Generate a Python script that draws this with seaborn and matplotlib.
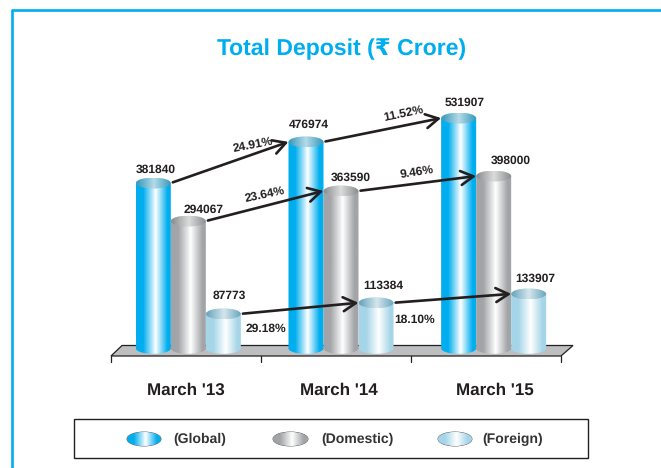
import numpy as np
import pandas as pd
import seaborn as sns
import matplotlib.pyplot as plt
from matplotlib.patches import Polygon, Rectangle, Ellipse
from matplotlib.colors import LinearSegmentedColormap

sns.set_theme(style="white")
plt.rcParams['font.family'] = ['Liberation Sans', 'DejaVu Sans']
plt.rcParams['text.hinting'] = 'none'
plt.rcParams['text.hinting_factor'] = 1

years = ["March '13", "March '14", "March '15"]
types = ["Global", "Domestic", "Foreign"]
global_dep = [381840, 476974, 531907]
domestic_dep = [294067, 363590, 398000]
foreign_dep = [87773, 113384, 133907]
growth_global = ["24.91%", "11.52%"]
growth_domestic = ["23.64%", "9.46%"]
growth_foreign = ["29.18%", "18.10%"]

df = pd.DataFrame({
    "year": years * 3,
    "type": np.repeat(types, 3),
    "value": global_dep + domestic_dep + foreign_dep,
})

side = {"Global": "#00aeef", "Domestic": "#a2a4a7", "Foreign": "#a5d5e8"}
cap_side = {"Global": "#3f9cbf", "Domestic": "#8f9295", "Foreign": "#6fa9c0"}
cap_mid = {"Global": "#b5dbe8", "Domestic": "#dcdcdc", "Foreign": "#d5e6ec"}
ink = "#231f20"

W, H = 661, 468
fig = plt.figure(figsize=(W / 100, H / 100), dpi=100)

# pixel layers under and over the bars
bg = fig.add_axes([0, 0, 1, 1], zorder=0)
top = fig.add_axes([0, 0, 1, 1], zorder=2)
for a in (bg, top):
    a.set_xlim(0, W)
    a.set_ylim(H, 0)
    a.axis("off")
top.patch.set_alpha(0)

# main axes, value scale 0.000433 px per unit
ax = fig.add_axes([112 / W, (H - 370) / H, 458 / W, 281.4 / H], zorder=1)
ax.patch.set_alpha(0)
sns.barplot(data=df, x="year", y="value", hue="type", hue_order=types, order=years,
            palette=side, width=0.688, gap=0, saturation=1, legend=False, ax=ax)
ax.set_xlim(-0.5, 2.5)
ax.set_ylim(-50000, 600000)
ax.axis("off")

cap_h = 11 / 0.000433
# the light cylinders sit a little low in the original drawing
sag = {"Global": 0, "Domestic": 0, "Foreign": 3.5 / 0.000433}


def shade(axes, c_edge, c_mid, box, clip, stops=(0.2, 0.55, 0.88), zorder=3):
    cmap = LinearSegmentedColormap.from_list(
        "c", [(0, c_edge), (stops[0], c_edge), (stops[1], c_mid), (stops[2], c_edge), (1, c_edge)])
    im = axes.imshow(np.linspace(0, 1, 128)[None, :], cmap=cmap, extent=box, aspect="auto",
                     zorder=zorder, interpolation="bilinear")
    im.set_clip_path(clip)
    return im


t = np.linspace(np.pi, 2 * np.pi, 40)
bars = {}
for name, cont in zip(types, ax.containers):
    bars[name] = list(cont)
    for p in cont:
        x0, w, v = p.get_x(), p.get_width(), p.get_height() - sag[name]
        p.set_visible(False)
        xc = x0 + w / 2
        # body with rounded foot
        vx = np.r_[x0, xc + w / 2 * np.cos(t), x0 + w]
        vy = np.r_[v, cap_h / 2 * np.sin(t), v]
        body = Polygon(np.c_[vx, vy], closed=True, transform=ax.transData)
        shade(ax, side[name], "#ffffff", (x0, x0 + w, -cap_h / 2, v), body)
        cap = Ellipse((xc, v), w, cap_h, transform=ax.transData)
        shade(ax, cap_side[name], cap_mid[name], (x0, x0 + w, v - cap_h / 2, v + cap_h / 2), cap,
              stops=(0.05, 0.5, 0.95), zorder=4)
ax.set_xlim(-0.5, 2.5)
ax.set_ylim(-50000, 600000)

# floor
bg.add_patch(Polygon([(111, 356), (122, 345.5), (573, 345.5), (561, 356)],
                     closed=True, fc="#bcbec0", ec=ink, lw=0.9))
for x in [111, 261, 411, 561]:
    bg.plot([x, x], [356, 362], color=ink, lw=0.9)

# growth arrows, from one cylinder to the next
for name, vals in [("Global", global_dep), ("Domestic", domestic_dep), ("Foreign", foreign_dep)]:
    for i in range(2):
        a_bar, b_bar = bars[name][i], bars[name][i + 1]
        ax.annotate("", xy=(b_bar.get_x(), vals[i + 1] - sag[name]),
                    xytext=(a_bar.get_x() + a_bar.get_width(), vals[i] - sag[name]),
                    xycoords="data", textcoords="data", zorder=6,
                    arrowprops=dict(arrowstyle="->,head_length=0.65,head_width=0.36", color=ink, lw=1.9,
                                    shrinkA=1.5, shrinkB=0, mutation_scale=14))

# value labels
val_xy = [(156, 170), (309, 125), (465, 103), (204, 210), (351, 178), (511, 161), (229, 296), (383, 286), (535, 279)]
for (x, y), v in zip(val_xy, global_dep + domestic_dep + foreign_dep):
    top.text(x, y, str(v), ha="center", va="center", fontsize=8.6, fontweight="bold", color=ink)

# growth labels
pct_xy = [(253, 145, 11), (403, 114, 12), (265, 195, 12), (417, 172, 9), (266, 329, 0), (415, 320, 0)]
for (x, y, r), s in zip(pct_xy, growth_global + growth_domestic + growth_foreign):
    top.text(x, y, s, ha="center", va="center", rotation=r, rotation_mode="anchor",
             fontsize=8.7, fontweight="bold", color=ink)

for x, s in zip([186, 339, 495], years):
    top.text(x, 390, s, ha="center", va="center", fontsize=12, fontweight="bold", color=ink)

top.text(342, 49, "Total Deposit (₹ Crore)", ha="center", va="center", fontsize=16.3,
         fontweight="bold", color="#00aeef")

# frame lines of the page
top.plot([12, 12], [468, 10], color="#00aeef", lw=1.9, solid_capstyle="butt")
top.plot([11, 661], [10, 10], color="#00aeef", lw=1.9, solid_capstyle="butt")

# legend
top.add_patch(Rectangle((74, 419), 514, 39, fc="none", ec=ink, lw=1))
leg_x = [(127, 161), (273, 308), (438, 472)]
leg_tx = [200, 357, 513]
for (x0, x1), tx, name in zip(leg_x, leg_tx, types):
    e = Ellipse(((x0 + x1) / 2, 439), x1 - x0, 14, transform=top.transData)
    shade(top, side[name], "#ffffff", (x0, x1, 446, 432), e)
    top.add_patch(Ellipse(((x0 + x1) / 2, 439), x1 - x0, 14, fc="none", ec="#4d4d4f", lw=0.6))
    top.text(tx, 439, "(" + name + ")", ha="center", va="center", fontsize=9.8, fontweight="bold", color="#333333")
top.set_xlim(0, W)
top.set_ylim(H, 0)

fig.savefig("out.png", dpi=100)
